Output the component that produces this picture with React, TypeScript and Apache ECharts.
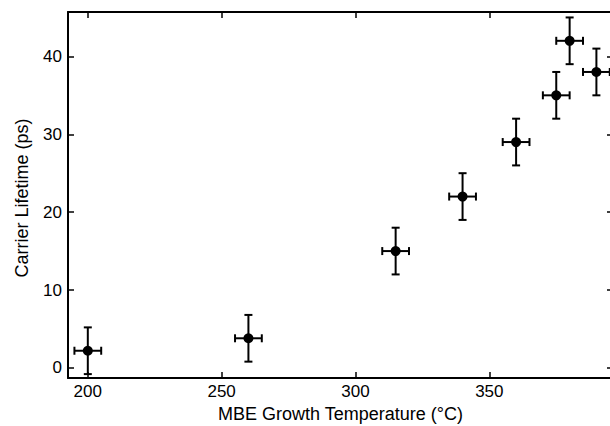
import React, { useEffect, useRef } from "react";
import * as echarts from "echarts";

const temps = [200, 260, 315, 340, 360, 375, 380, 390];
const lifetimes = [2.2, 3.8, 15, 22, 29, 35, 42, 38];
const xErr = [5, 5, 5, 5, 5, 5, 5, 5];
const yErr = [3, 3, 3, 3, 3, 3, 3, 3];

const xTitle = "MBE Growth Temperature (°C)";
const yTitle = "Carrier Lifetime (ps)";

const FONT = "'Liberation Sans', Arial, sans-serif";

export default function App() {
  const ref = useRef<HTMLDivElement>(null);
  useEffect(() => {
    document.body.style.margin = "0";
    if (!ref.current) return;
    const chart = echarts.init(ref.current, undefined, { renderer: "svg" });
    const errData = temps.map((t, i) => [t, lifetimes[i], xErr[i], yErr[i]]);
    const xMin = 192.6;
    const xMax = 396.2;
    const yMin = -1.3;
    const yMax = 45.7;
    const axisCommon = {
      axisLine: { show: true, onZero: false, lineStyle: { color: "#000", width: 2 } },
      axisTick: { show: true, inside: true, length: 6, lineStyle: { color: "#000", width: 1.5 } },
      splitLine: { show: false },
    };
    chart.setOption({
      animation: false,
      backgroundColor: "#fff",
      grid: {
        left: 68,
        top: 12,
        width: 545,
        height: 366,
        containLabel: false,
        outerBoundsMode: "none",
      },
      xAxis: [
        {
          type: "value",
          position: "bottom",
          min: xMin,
          max: xMax,
          minInterval: 50,
          maxInterval: 50,
          ...axisCommon,
          axisLabel: {
            showMinLabel: false,
            showMaxLabel: false,
            color: "#000",
            fontSize: 17,
            margin: 5,
            fontFamily: FONT,
          },
          name: xTitle,
          nameLocation: "middle",
          nameGap: 25,
          nameTextStyle: { color: "#000", fontSize: 18, fontFamily: FONT },
        },
        {
          type: "value",
          position: "top",
          min: xMin,
          max: xMax,
          minInterval: 50,
          maxInterval: 50,
          ...axisCommon,
          axisLabel: { show: false },
        },
      ],
      yAxis: [
        {
          type: "value",
          position: "left",
          min: yMin,
          max: yMax,
          minInterval: 10,
          maxInterval: 10,
          ...axisCommon,
          axisLabel: {
            showMinLabel: false,
            showMaxLabel: false,
            color: "#000",
            fontSize: 17,
            margin: 6,
            fontFamily: FONT,
          },
        },
        {
          type: "value",
          position: "right",
          min: yMin,
          max: yMax,
          minInterval: 10,
          maxInterval: 10,
          ...axisCommon,
          axisLabel: { show: false },
        },
      ],
      graphic: [
        {
          type: "text",
          x: 22,
          y: 198,
          rotation: Math.PI / 2,
          style: {
            text: yTitle,
            fill: "#000",
            fontSize: 18,
            fontFamily: FONT,
            align: "center",
            verticalAlign: "middle",
          },
        },
      ],
      series: [
        {
          type: "custom",
          xAxisIndex: 0,
          yAxisIndex: 0,
          clip: false,
          data: errData,
          renderItem: (params: any, api: any) => {
            const x = api.value(0);
            const y = api.value(1);
            const dx = api.value(2);
            const dy = api.value(3);
            const c = api.coord([x, y]);
            const top = api.coord([x, y + dy]);
            const bot = api.coord([x, y - dy]);
            const left = api.coord([x - dx, y]);
            const right = api.coord([x + dx, y]);
            const cap = 4;
            const st = { stroke: "#000", lineWidth: 2 };
            const ln = (x1: number, y1: number, x2: number, y2: number) => ({
              type: "line",
              shape: { x1, y1, x2, y2 },
              style: st,
            });
            return {
              type: "group",
              children: [
                ln(c[0], top[1], c[0], bot[1]),
                ln(c[0] - cap, top[1], c[0] + cap, top[1]),
                ln(c[0] - cap, bot[1], c[0] + cap, bot[1]),
                ln(left[0], c[1], right[0], c[1]),
                ln(left[0], c[1] - cap, left[0], c[1] + cap),
                ln(right[0], c[1] - cap, right[0], c[1] + cap),
              ],
            };
          },
          z: 2,
        },
        {
          type: "scatter",
          xAxisIndex: 0,
          yAxisIndex: 0,
          data: temps.map((t, i) => [t, lifetimes[i]]),
          symbol: "circle",
          symbolSize: 10,
          itemStyle: { color: "#000", opacity: 1 },
          z: 3,
        },
      ],
    });
    return () => chart.dispose();
  }, []);
  return <div ref={ref} style={{ width: 610, height: 426 }} />;
}
